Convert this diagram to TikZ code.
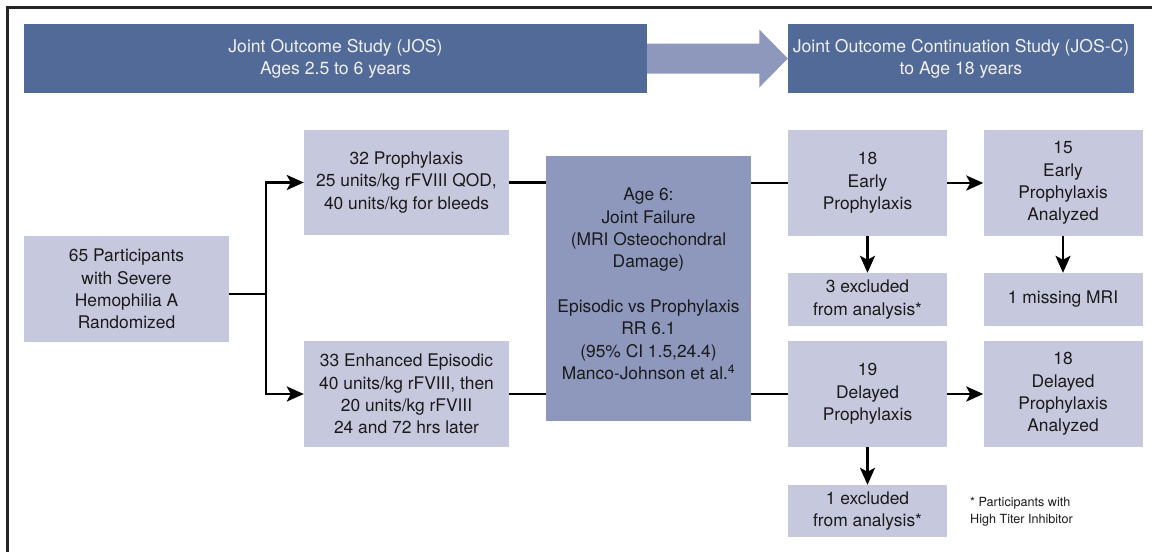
\documentclass[tikz,border=0pt]{standalone}
\usepackage{fontspec}
\setmainfont{TeX Gyre Heros}
\usetikzlibrary{arrows.meta,calc}
\definecolor{hdr}{HTML}{526A98}
\definecolor{darkbox}{HTML}{8E98BD}
\definecolor{lightbox}{HTML}{C6C9DE}
\definecolor{ink}{HTML}{1A1A1A}
\begin{document}
\begin{tikzpicture}[x=1pt,y=-1pt,
  box/.style={fill=lightbox, inner sep=0pt, align=center, text=ink, font=\fontsize{17.4}{22.3}\selectfont},
  dbox/.style={box, fill=darkbox},
  hbar/.style={fill=hdr, inner sep=0pt, align=center, text=white!94!black, font=\fontsize{17.6}{22.3}\selectfont},
  conn/.style={line width=2.5pt, draw=black},
  arr/.style={conn, -{Stealth[length=17pt,width=15pt,inset=4pt]}},
  note/.style={inner sep=0pt, align=left, text=ink, font=\fontsize{12.6}{17}\selectfont}
]
\useasboundingbox (0,0) rectangle (1152,552);
\fill[white] (0,0) rectangle (1152,552);
\draw[line width=2.5pt, draw=black!85] (7.5,552) -- (7.5,7.5) -- (1152,7.5);

% header bars
\node[hbar, minimum width=623pt, minimum height=69pt] (h1) at (335.5,58.5) {Joint Outcome Study (JOS)\\Ages 2.5 to 6 years};
\node[hbar, minimum width=346pt, minimum height=69pt] (h2) at (961,58.5) {Joint Outcome Continuation Study (JOS-C)\\to Age 18 years};
\fill[darkbox] ($(h1.east)+(0,-15)$) -- ($(h2.west)+(-28.5,-15)$) -- ($(h2.west)+(-28.5,-29)$) -- (h2.west)
  -- ($(h2.west)+(-28.5,29)$) -- ($(h2.west)+(-28.5,15)$) -- ($(h1.east)+(0,15)$) -- cycle;

% boxes
\node[box, minimum width=205pt, minimum height=106pt] (A) at (126.5,289) {65 Participants\\with Severe\\Hemophilia A\\Randomized};
\node[box, minimum width=205pt, minimum height=105pt] (B) at (406.5,182.5) {32 Prophylaxis\\25 units/kg rFVIII QOD,\\40 units/kg for bleeds};
\node[box, minimum width=205pt, minimum height=106pt] (D) at (406.5,394) {33 Enhanced Episodic\\40 units/kg rFVIII, then\\20 units/kg rFVIII\\24 and 72 hrs later};
\node[dbox, minimum width=205pt, minimum height=265pt] (C) at (648.5,288.5) {};
\node[box, fill=none, anchor=center] (Ct) at (648.5,284) {Age 6:\\Joint Failure\\(MRI Osteochondral\\Damage)\\[22.3pt]Episodic vs Prophylaxis\\RR 6.1\\(95\% CI 1.5,24.4)\\Manco-Johnson et al.\textsuperscript{4}};
\node[box, minimum width=159pt, minimum height=106pt] (E) at (867.5,183) {18\\Early\\Prophylaxis};
\node[box, minimum width=159pt, minimum height=106pt] (F) at (1063,183) {15\\Early\\Prophylaxis\\Analyzed};
\node[box, minimum width=159pt, minimum height=53pt] (G) at (867.5,299.5) {3 excluded\\from analysis*};
\node[box, minimum width=159pt, minimum height=53pt] (H) at (1063,299.5) {1 missing MRI};
\node[box, minimum width=159pt, minimum height=106pt] (I) at (867.5,394) {19\\Delayed\\Prophylaxis};
\node[box, minimum width=159pt, minimum height=106pt] (K) at (1063,394) {18\\Delayed\\Prophylaxis\\Analyzed};
\node[box, minimum width=159pt, minimum height=52pt] (J) at (867.5,511) {1 excluded\\from analysis*};
\node[note, anchor=west] (fn) at (970,511.5) {* Participants with\\High Titer Inhibitor};

% connectors
\coordinate (br) at (266,294);
\draw[conn] (A.east |- br) -- (br);
\draw[arr] (br) |- (B.west);
\draw[arr] (br) |- (D.west);
\draw[conn] (B.east) -- (B.east -| C.west);
\draw[conn] (D.east) -- (D.east -| C.west);
\draw[conn] (C.east |- E.west) -- (E.west);
\draw[conn] (C.east |- I.west) -- (I.west);
\draw[arr] (E.east) -- (F.west);
\draw[arr] (E.south) -- (G.north);
\draw[arr] (F.south) -- (H.north);
\draw[arr] (I.east) -- (K.west);
\draw[arr] (I.south) -- (J.north);
\end{tikzpicture}
\end{document}
